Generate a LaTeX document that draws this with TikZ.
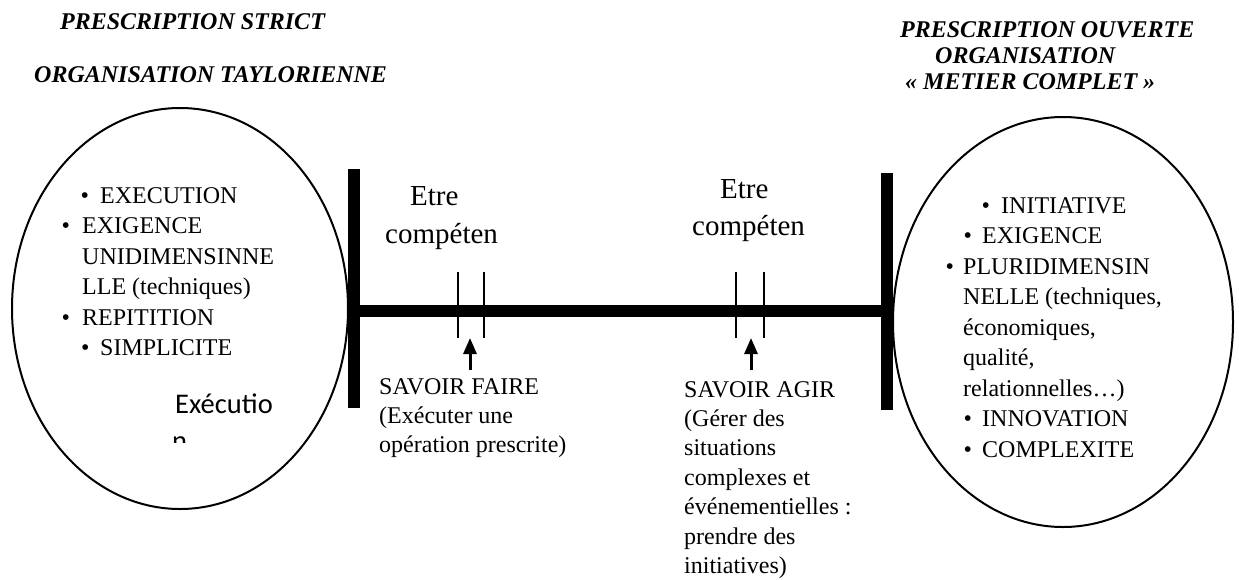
\documentclass[tikz,border=0pt]{standalone}
\usepackage{fontspec}
\setmainfont{Liberation Serif}
\newfontfamily\calibrifont{Carlito}
\usetikzlibrary{arrows.meta,shapes.geometric}

\begin{document}
\begin{tikzpicture}[x=1pt,y=-1pt,
  txt/.style={inner sep=0pt, anchor=base west, font=\fontsize{24}{28}\selectfont},
  heading/.style={txt, font=\fontsize{24}{28}\selectfont\bfseries\itshape},
  bigtxt/.style={txt, font=\fontsize{29}{34}\selectfont},
  sanstxt/.style={txt, font=\calibrifont\fontsize{28.5}{34}\selectfont},
  oval/.style={ellipse, draw, line width=2pt, inner sep=0pt},
  barline/.style={line width=11.5pt},
  tickline/.style={line width=1.2pt},
  uparrow/.style={line width=3pt, -{Triangle[length=16pt,width=13pt]}},
]
\useasboundingbox (0,0) rectangle (1239,579);

% headings
\node[heading] (h1) at (60,29) {PRESCRIPTION STRICT};
\node[heading] (h2) at (34,82) {ORGANISATION TAYLORIENNE};
\node[heading] (h3) at (900,37) {PRESCRIPTION OUVERTE};
\node[heading] (h4) at (935,63) {ORGANISATION};
\node[heading] (h5) at (905,89) {« METIER COMPLET »};

% the two ovals
\node[oval, minimum width=336, minimum height=401] (lov) at (180,308.5) {};
\node[oval, minimum width=340, minimum height=410] (rov) at (1063,322) {};

% scale: two end bars and the axis
\coordinate (lbt) at (354,169);
\coordinate (lbb) at (354,408);
\coordinate (rbt) at (887,173);
\coordinate (rbb) at (887,410);
\coordinate (axl) at (354,311);
\coordinate (axr) at (887,311);
\draw[barline] (lbt) -- (lbb);
\draw[barline] (rbt) -- (rbb);
\draw[barline] (axl) -- (axr);

% tick pairs
\foreach \tx [count=\i] in {458,484,736,764}{
  \coordinate (t\i a) at (\tx,272);
  \coordinate (t\i b) at (\tx,338);
  \draw[tickline] (t\i a) -- (t\i b);
}

% arrows
\coordinate (a1s) at (470,370);
\coordinate (a1e) at (470,338);
\coordinate (a2s) at (751,370);
\coordinate (a2e) at (751,338);
\draw[uparrow] (a1s) -- (a1e);
\draw[uparrow] (a2s) -- (a2e);

% left oval contents
\node[txt] (lb1) at (80.5,203) {•};
\node[txt] (l1) at (100,203) {EXECUTION};
\node[txt] (lb2) at (61.5,233.5) {•};
\node[txt] (l2) at (82,233.5) {EXIGENCE};
\node[txt] (l3) at (82,264) {UNIDIMENSINNE};
\node[txt] (l4) at (82,294.5) {LLE (techniques)};
\node[txt] (lb5) at (61.5,325) {•};
\node[txt] (l5) at (82,325) {REPITITION};
\node[txt] (lb6) at (81,355.5) {•};
\node[txt] (l6) at (100,355.5) {SIMPLICITE};
\node[sanstxt] (ex) at (175,413) {Exécutio};
\begin{scope}
  \clip (150,425) rectangle (220,442);
  \node[sanstxt] (exn) at (172,450) {n};
\end{scope}

% right oval contents
\node[txt] (rb1) at (981.5,213) {•};
\node[txt] (r1) at (1001,213) {INITIATIVE};
\node[txt] (rb2) at (963.5,243) {•};
\node[txt] (r2) at (982,243) {EXIGENCE};
\node[txt] (rb3) at (945.5,274) {•};
\node[txt] (r3) at (963,274) {PLURIDIMENSIN};
\node[txt] (r4) at (963,304) {NELLE (techniques,};
\node[txt] (r5) at (963,335) {économiques,};
\node[txt] (r6) at (963,365) {qualité,};
\node[txt] (r7) at (963,396) {relationnelles…)};
\node[txt] (rb8) at (963.5,426) {•};
\node[txt] (r8) at (982,426) {INNOVATION};
\node[txt] (rb9) at (963.5,457) {•};
\node[txt] (r9) at (982,457) {COMPLEXITE};

% labels on the scale
\node[bigtxt] (e1) at (410,205) {Etre};
\node[bigtxt] (c1) at (385,243) {compéten};
\node[bigtxt] (e2) at (720,198) {Etre};
\node[bigtxt] (c2) at (692,235) {compéten};

\node[txt] (sf1) at (379,394) {SAVOIR FAIRE};
\node[txt] (sf2) at (379,423) {(Exécuter une};
\node[txt] (sf3) at (379,452) {opération prescrite)};

\node[txt] (sa1) at (684,397) {SAVOIR AGIR};
\node[txt] (sa2) at (684,426.4) {(Gérer des};
\node[txt] (sa3) at (684,455.8) {situations};
\node[txt] (sa4) at (684,485.2) {complexes et};
\node[txt] (sa5) at (684,514.6) {événementielles :};
\node[txt] (sa6) at (684,544) {prendre des};
\node[txt] (sa7) at (684,573.4) {initiatives)};
\end{tikzpicture}
\end{document}
